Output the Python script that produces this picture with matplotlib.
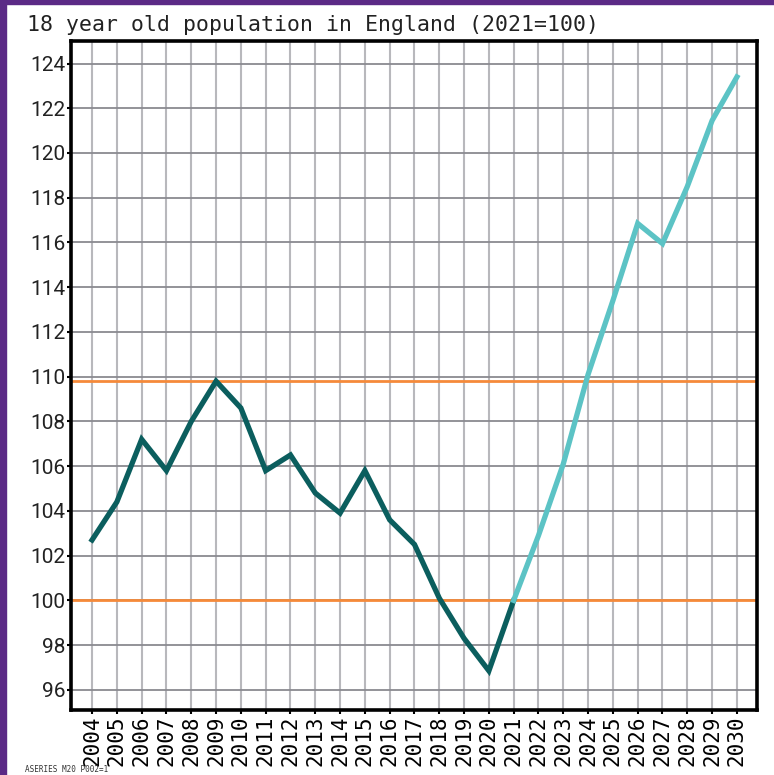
import matplotlib.pyplot as plt
from matplotlib.patches import Rectangle

# indice, 2021 = 100
years_past = [2004, 2005, 2006, 2007, 2008, 2009, 2010, 2011, 2012, 2013,
              2014, 2015, 2016, 2017, 2018, 2019, 2020, 2021]
pop_past = [102.7, 104.4, 107.2, 105.8, 108.0, 109.8, 108.6, 105.8, 106.5, 104.8,
            103.9, 105.8, 103.6, 102.5, 100.1, 98.3, 96.85, 100.0]
years_proj = [2021, 2022, 2023, 2024, 2025, 2026, 2027, 2028, 2029, 2030]
pop_proj = [100.0, 102.9, 106.1, 110.1, 113.4, 116.85, 115.95, 118.5, 121.45, 123.4]
ref_lines = [100.0, 109.8]
all_years = list(range(2004, 2031))
y_ticks = list(range(96, 125, 2))

fig = plt.figure(figsize=(7.74, 7.75), dpi=100)
fig.patch.set_facecolor('white')
# marco morado
fig.patches.append(Rectangle((0, 0), 6 / 774, 1, transform=fig.transFigure,
                             color='#5b2a86', zorder=0))
fig.patches.append(Rectangle((0, 1 - 4 / 775), 1, 4 / 775, transform=fig.transFigure,
                             color='#5b2a86', zorder=0))

ax = fig.add_axes([0.0917, 0.0839, 0.886, 0.863])

for v in ref_lines:
    ax.axhline(v, color='#f58a3a', lw=2.0, zorder=2)

ax.plot(years_past, pop_past, color='#0b5e5e', lw=3.8, zorder=3, solid_joinstyle='miter')
ax.plot(years_proj, pop_proj, color='#5cc3c5', lw=3.8, zorder=3, solid_joinstyle='miter')

ax.set_xlim(2003.15, 2030.8)
ax.set_ylim(95.1, 125.0)
ax.set_xticks(all_years)
ax.set_xticklabels([str(y) for y in all_years], rotation=90,
                   fontfamily='DejaVu Sans Mono', fontsize=15)
ax.set_yticks(y_ticks)
ax.set_yticklabels([str(y) for y in y_ticks], fontfamily='Roboto', fontsize=15,
                   color='#222222')

ax.grid(axis='x', color='#b8b8bc', lw=1.5, zorder=1)
ax.grid(axis='y', color='#8a8a90', lw=1.3, zorder=1)
ax.tick_params(axis='both', length=3, width=1.5, pad=1)

for s in ax.spines.values():
    s.set_linewidth(2.6)
    s.set_color('black')

fig.text(27 / 774, 1 - 25 / 775, '18 year old population in England (2021=100)',
         fontfamily='DejaVu Sans Mono', fontsize=15.5, va='center', ha='left',
         color='#222222')
fig.text(25 / 774, 1 / 775, 'ASERIES M20 P002=1', fontfamily='DejaVu Sans Mono',
         fontsize=5.5, va='bottom', ha='left', color='#333333')

plt.savefig('out.png', dpi=100)
